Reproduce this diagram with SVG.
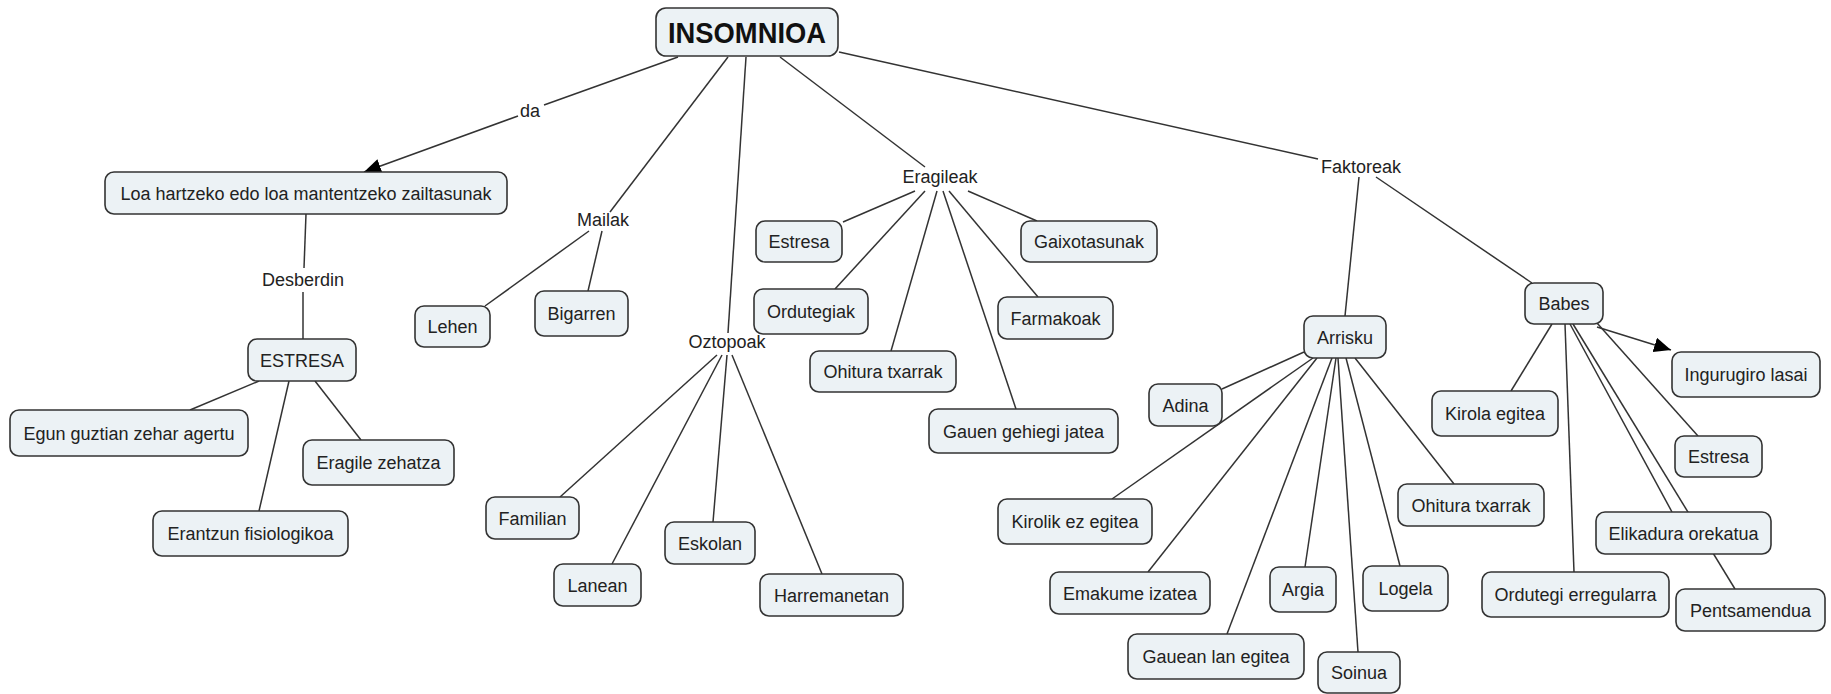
<svg xmlns="http://www.w3.org/2000/svg" width="1831" height="694" viewBox="0 0 1831 694">
  <defs>
    <style>
      .bg { fill: #ffffff; }
      .node rect { fill: #ecf2f5; stroke: #333333; stroke-width: 1.6; }
      .node text, .phrase text { font-family: "Liberation Sans", Arial, sans-serif; font-size: 18px; fill: #222222; text-anchor: middle; }
      .root text { font-weight: bold; font-size: 30px; fill: #111111; }
      #connectors line { stroke: #333333; stroke-width: 1.5; fill: none; }
    </style>
    <marker id="arrow" markerUnits="userSpaceOnUse" markerWidth="18" markerHeight="16" refX="17" refY="7.5" orient="auto">
      <path d="M0,0 L17,7.5 L0,15 Z" fill="#000000"/>
    </marker>
  </defs>

  <rect class="bg" x="0" y="0" width="1831" height="694"/>

  <!-- connectors: concept -> linking phrase -> concept -->
  <g id="connectors">
    <!-- INSOMNIOA / da / Loa hartzeko... -->
    <line x1="678" y1="57" x2="544" y2="105"/>
    <line x1="518" y1="116" x2="364" y2="172" marker-end="url(#arrow)"/>
    <!-- Loa / Desberdin / ESTRESA -->
    <line x1="306" y1="214" x2="304" y2="268"/>
    <line x1="303" y1="292" x2="303" y2="339"/>
    <line x1="259" y1="381" x2="190" y2="410"/>
    <line x1="289" y1="381" x2="259" y2="511"/>
    <line x1="315" y1="381" x2="361" y2="440"/>
    <!-- Mailak -->
    <line x1="728" y1="57" x2="610" y2="212"/>
    <line x1="589" y1="231" x2="485" y2="306"/>
    <line x1="602" y1="231" x2="588" y2="291"/>
    <!-- Oztopoak -->
    <line x1="746" y1="57" x2="728" y2="333"/>
    <line x1="717" y1="355" x2="560" y2="497"/>
    <line x1="722" y1="355" x2="612" y2="564"/>
    <line x1="727" y1="355" x2="713" y2="522"/>
    <line x1="732" y1="355" x2="822" y2="574"/>
    <!-- Eragileak -->
    <line x1="780" y1="57" x2="925" y2="167"/>
    <line x1="915" y1="191" x2="843" y2="222"/>
    <line x1="925" y1="191" x2="835" y2="289"/>
    <line x1="937" y1="191" x2="891" y2="351"/>
    <line x1="943" y1="191" x2="1016" y2="409"/>
    <line x1="949" y1="191" x2="1038" y2="297"/>
    <line x1="968" y1="191" x2="1037" y2="221"/>
    <!-- Faktoreak -->
    <line x1="839" y1="52" x2="1318" y2="159"/>
    <line x1="1359" y1="177" x2="1345" y2="316"/>
    <line x1="1376" y1="177" x2="1532" y2="283"/>
    <!-- Arrisku -->
    <line x1="1304" y1="352" x2="1222" y2="389"/>
    <line x1="1313" y1="358" x2="1112" y2="499"/>
    <line x1="1317" y1="358" x2="1148" y2="572"/>
    <line x1="1332" y1="358" x2="1227" y2="634"/>
    <line x1="1336" y1="358" x2="1305" y2="567"/>
    <line x1="1338" y1="358" x2="1358" y2="652"/>
    <line x1="1346" y1="358" x2="1400" y2="566"/>
    <line x1="1355" y1="358" x2="1454" y2="484"/>
    <!-- Babes -->
    <line x1="1552" y1="324" x2="1511" y2="391"/>
    <line x1="1565" y1="324" x2="1574" y2="572"/>
    <line x1="1570" y1="324" x2="1672" y2="512"/>
    <line x1="1573" y1="324" x2="1735" y2="589"/>
    <line x1="1597" y1="323" x2="1698" y2="436"/>
    <line x1="1597" y1="327" x2="1671" y2="350" marker-end="url(#arrow)"/>
  </g>

  <!-- linking phrases -->
  <g id="phrase-da" class="phrase"><text x="530" y="117">da</text></g>
  <g id="phrase-desberdin" class="phrase"><text x="303" y="286">Desberdin</text></g>
  <g id="phrase-mailak" class="phrase"><text x="603" y="226">Mailak</text></g>
  <g id="phrase-oztopoak" class="phrase"><text x="727" y="348">Oztopoak</text></g>
  <g id="phrase-eragileak" class="phrase"><text x="940" y="183">Eragileak</text></g>
  <g id="phrase-faktoreak" class="phrase"><text x="1361" y="173">Faktoreak</text></g>

  <!-- concepts -->
  <g id="insomnioa" class="node root"><rect x="656" y="8" width="182" height="48" rx="10"/><text x="747" y="43" textLength="158" lengthAdjust="spacingAndGlyphs">INSOMNIOA</text></g>
  <g id="loa" class="node"><rect x="105" y="172" width="402" height="42" rx="9"/><text x="306" y="199.5">Loa hartzeko edo loa mantentzeko zailtasunak</text></g>
  <g id="estresa-main" class="node"><rect x="248" y="339" width="108" height="42" rx="9"/><text x="302" y="366.5">ESTRESA</text></g>
  <g id="egun" class="node"><rect x="10" y="410" width="238" height="46" rx="9"/><text x="129" y="439.5">Egun guztian zehar agertu</text></g>
  <g id="eragile-zehatza" class="node"><rect x="303" y="440" width="151" height="45" rx="9"/><text x="378.5" y="469">Eragile zehatza</text></g>
  <g id="erantzun" class="node"><rect x="153" y="511" width="195" height="45" rx="9"/><text x="250.5" y="540">Erantzun fisiologikoa</text></g>

  <g id="lehen" class="node"><rect x="415" y="306" width="75" height="41" rx="9"/><text x="452.5" y="333">Lehen</text></g>
  <g id="bigarren" class="node"><rect x="535" y="291" width="93" height="45" rx="9"/><text x="581.5" y="320">Bigarren</text></g>

  <g id="familian" class="node"><rect x="486" y="497" width="93" height="42" rx="9"/><text x="532.5" y="524.5">Familian</text></g>
  <g id="lanean" class="node"><rect x="554" y="564" width="87" height="42" rx="9"/><text x="597.5" y="591.5">Lanean</text></g>
  <g id="eskolan" class="node"><rect x="665" y="522" width="90" height="42" rx="9"/><text x="710" y="549.5">Eskolan</text></g>
  <g id="harremanetan" class="node"><rect x="760" y="574" width="143" height="42" rx="9"/><text x="831.5" y="601.5">Harremanetan</text></g>

  <g id="estresa-eragile" class="node"><rect x="756" y="221" width="86" height="41" rx="9"/><text x="799" y="248">Estresa</text></g>
  <g id="gaixotasunak" class="node"><rect x="1021" y="221" width="136" height="41" rx="9"/><text x="1089" y="248">Gaixotasunak</text></g>
  <g id="ordutegiak" class="node"><rect x="754" y="289" width="114" height="45" rx="9"/><text x="811" y="318">Ordutegiak</text></g>
  <g id="farmakoak" class="node"><rect x="998" y="297" width="115" height="42" rx="9"/><text x="1055.5" y="324.5">Farmakoak</text></g>
  <g id="ohitura-eragile" class="node"><rect x="810" y="351" width="146" height="41" rx="9"/><text x="883" y="378">Ohitura txarrak</text></g>
  <g id="gauen" class="node"><rect x="929" y="409" width="189" height="44" rx="9"/><text x="1023.5" y="437.5">Gauen gehiegi jatea</text></g>

  <g id="arrisku" class="node"><rect x="1304" y="316" width="82" height="42" rx="9"/><text x="1345" y="343.5">Arrisku</text></g>
  <g id="adina" class="node"><rect x="1149" y="384" width="73" height="42" rx="9"/><text x="1185.5" y="411.5">Adina</text></g>
  <g id="kirolik" class="node"><rect x="998" y="499" width="154" height="45" rx="9"/><text x="1075" y="528">Kirolik ez egitea</text></g>
  <g id="emakume" class="node"><rect x="1050" y="572" width="160" height="42" rx="9"/><text x="1130" y="599.5">Emakume izatea</text></g>
  <g id="gauean" class="node"><rect x="1128" y="634" width="176" height="45" rx="9"/><text x="1216" y="663">Gauean lan egitea</text></g>
  <g id="argia" class="node"><rect x="1270" y="567" width="66" height="45" rx="9"/><text x="1303" y="596">Argia</text></g>
  <g id="soinua" class="node"><rect x="1318" y="652" width="82" height="41" rx="9"/><text x="1359" y="679">Soinua</text></g>
  <g id="logela" class="node"><rect x="1363" y="566" width="85" height="45" rx="9"/><text x="1405.5" y="595">Logela</text></g>
  <g id="ohitura-arrisku" class="node"><rect x="1398" y="484" width="146" height="42" rx="9"/><text x="1471" y="511.5">Ohitura txarrak</text></g>

  <g id="babes" class="node"><rect x="1525" y="283" width="78" height="41" rx="9"/><text x="1564" y="310">Babes</text></g>
  <g id="kirola" class="node"><rect x="1432" y="391" width="126" height="45" rx="9"/><text x="1495" y="420">Kirola egitea</text></g>
  <g id="ingurugiro" class="node"><rect x="1672" y="352" width="148" height="45" rx="9"/><text x="1746" y="381">Ingurugiro lasai</text></g>
  <g id="estresa-babes" class="node"><rect x="1675" y="436" width="87" height="41" rx="9"/><text x="1718.5" y="463">Estresa</text></g>
  <g id="elikadura" class="node"><rect x="1596" y="512" width="175" height="42" rx="9"/><text x="1683.5" y="539.5">Elikadura orekatua</text></g>
  <g id="ordutegi-erregularra" class="node"><rect x="1482" y="572" width="187" height="45" rx="9"/><text x="1575.5" y="601">Ordutegi erregularra</text></g>
  <g id="pentsamendua" class="node"><rect x="1676" y="589" width="149" height="42" rx="9"/><text x="1750.5" y="616.5">Pentsamendua</text></g>
</svg>
